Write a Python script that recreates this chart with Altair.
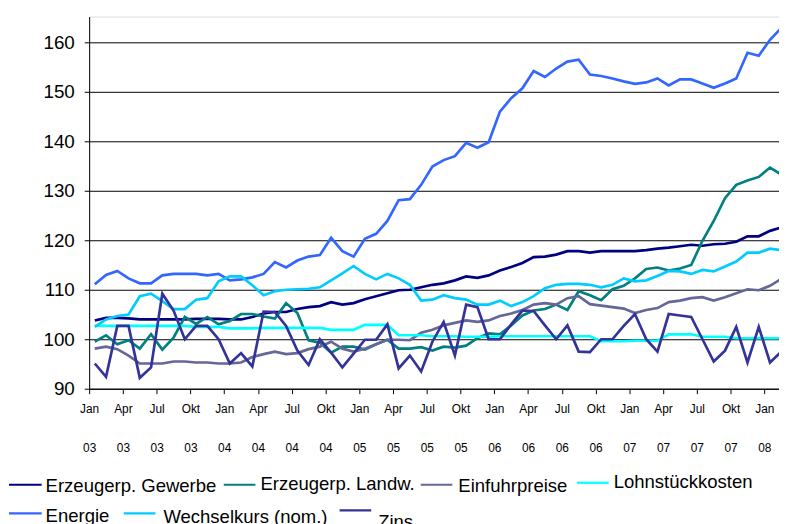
import json
import altair as alt
import pandas as pd

# ---------------- data (monthly, Jan 2003 .. Feb 2008) ----------------
series_names = ["Erzeugerp. Gewerbe", "Erzeugerp. Landw.", "Einfuhrpreise",
                "Lohnstückkosten", "Energie", "Wechselkurs (nom.)", "Zins"]
series_colors = ["#000080", "#008080", "#666699", "#00FFFF",
                 "#3366FF", "#00CCFF", "#333399"]
quarter_labels = ["Jan", "Apr", "Jul", "Okt"]
year_labels = ["03", "04", "05", "06", "07", "08"]

gewerbe = [103.8, 104.3, 104.3, 104.2, 104.0, 104.0, 104.0, 104.0, 104.0, 104.1,
           104.1, 104.1, 104.0, 104.0, 104.5, 105.2, 105.5, 105.5, 106.1, 106.5,
           106.7, 107.5, 107.0, 107.3, 108.1, 108.7, 109.3, 109.9, 110.0, 110.5,
           111.0, 111.3, 111.9, 112.7, 112.4, 112.9, 113.9, 114.6, 115.4, 116.6,
           116.7, 117.1, 117.8, 117.8, 117.5, 117.8, 117.8, 117.8, 117.8, 118.0,
           118.3, 118.5, 118.8, 119.1, 118.9, 119.2, 119.3, 119.7, 120.8, 120.8,
           121.9, 122.6]
landw = [99.5, 100.8, 99.0, 99.8, 98.1, 101.0, 97.9, 100.3, 104.5, 103.1,
         104.5, 103.0, 103.7, 105.1, 105.1, 104.6, 104.2, 107.3, 105.3, 99.8,
         99.3, 97.3, 98.5, 98.5, 97.9, 99.0, 99.9, 98.1, 98.1, 98.4,
         97.7, 98.5, 98.3, 98.7, 100.2, 101.2, 101.0, 102.8, 104.8, 105.8,
         106.1, 107.0, 105.9, 109.7, 108.9, 107.9, 110.1, 110.8, 112.3, 114.2,
         114.5, 113.9, 114.3, 115.0, 119.9, 123.9, 128.5, 131.2, 132.1, 132.8,
         134.7, 133.3]
einfuhr = [98.1, 98.5, 98.0, 96.7, 95.1, 95.1, 95.1, 95.5, 95.5, 95.3,
           95.3, 95.1, 95.1, 95.3, 96.4, 97.0, 97.5, 97.0, 97.2, 98.0,
           98.5, 99.5, 98.1, 97.5, 98.1, 99.0, 99.9, 99.9, 99.8, 101.3,
           101.9, 102.8, 103.3, 103.8, 103.5, 103.8, 104.7, 105.2, 105.9, 107.0,
           107.3, 107.0, 108.3, 108.7, 107.1, 106.8, 106.5, 106.2, 105.3, 105.9,
           106.3, 107.5, 107.8, 108.3, 108.5, 107.8, 108.5, 109.3, 110.1, 109.9,
           110.8, 112.2]
lohn = [102.7, 102.7, 102.7, 102.7, 102.7, 102.7, 102.7, 102.7, 102.7, 102.5,
        102.5, 102.5, 102.2, 102.2, 102.2, 102.3, 102.3, 102.3, 102.3, 102.3,
        102.3, 101.9, 101.9, 101.9, 102.9, 102.9, 102.9, 100.8, 100.8, 100.8,
        100.6, 100.6, 100.6, 100.5, 100.5, 100.5, 100.6, 100.6, 100.6, 100.6,
        100.6, 100.6, 100.6, 100.6, 100.6, 99.6, 99.6, 99.6, 99.7, 99.7,
        99.7, 101.0, 101.0, 101.0, 100.5, 100.5, 100.5, 100.2, 100.2, 100.2,
        100.2, 100.2]
energie = [111.1, 113.0, 113.8, 112.3, 111.3, 111.3, 112.9, 113.2, 113.2, 113.2,
           112.9, 113.2, 111.9, 112.1, 112.5, 113.2, 115.6, 114.5, 115.9, 116.7,
           117.0, 120.5, 117.8, 116.7, 120.3, 121.3, 123.9, 128.1, 128.3, 131.2,
           134.9, 136.2, 137.0, 139.7, 138.7, 139.8, 146.0, 148.7, 150.7, 154.2,
           153.0, 154.7, 156.1, 156.5, 153.5, 153.2, 152.7, 152.1, 151.6, 151.9,
           152.7, 151.3, 152.5, 152.5, 151.7, 150.8, 151.7, 152.7, 157.9, 157.3,
           160.5, 162.9]
wechselkurs = [102.5, 104.0, 104.7, 105.0, 108.7, 109.2, 107.7, 106.1, 106.1, 108.0,
               108.3, 111.7, 112.7, 112.7, 110.9, 108.9, 109.7, 110.0, 110.1, 110.2,
               110.5, 111.9, 113.3, 114.8, 113.2, 112.1, 113.2, 112.3, 111.0, 107.8,
               108.0, 108.9, 108.3, 108.0, 107.0, 107.0, 107.8, 106.7, 107.5, 108.7,
               110.3, 111.0, 111.2, 111.2, 111.0, 110.5, 111.0, 112.3, 111.7, 111.9,
               112.8, 113.8, 113.7, 113.2, 114.0, 113.7, 114.7, 115.7, 117.5, 117.5,
               118.3, 118.0]
zins = [95.1, 92.4, 102.7, 102.7, 92.2, 94.3, 109.2, 105.8, 100.0, 102.7,
        102.7, 100.0, 95.1, 97.2, 94.5, 105.6, 105.5, 102.7, 97.7, 94.8,
        100.0, 97.3, 94.3, 97.1, 99.9, 99.9, 103.0, 94.1, 96.7, 93.5,
        99.5, 103.5, 96.7, 107.0, 106.5, 100.0, 100.0, 103.0, 105.8, 105.7,
        102.8, 100.0, 102.8, 97.5, 97.4, 100.0, 100.0, 102.7, 105.1, 100.0,
        97.5, 105.1, 104.8, 104.5, 100.0, 95.5, 97.7, 102.5, 95.3, 102.5,
        95.3, 97.5]

all_series = [gewerbe, landw, einfuhr, lohn, energie, wechselkurs, zins]

rows = []
for name, vals in zip(series_names, all_series):
    for i, v in enumerate(vals):
        rows.append({"monat": i, "wert": v, "reihe": name})
df = pd.DataFrame(rows)

# ---------------- layout (pixels, relative to the plot area's top-left) ----------------
PLOT_W, PLOT_H = 697, 376
PAD_L, PAD_T = 82, 6
# legend: flowing two-row layout (line start, line end, line y, text x, text baseline)
legend_layout = {
    "Erzeugerp. Gewerbe": (9, 42, 487, 46, 494),
    "Erzeugerp. Landw.": (226, 258, 487, 263, 492),
    "Einfuhrpreise": (425, 457, 487, 463, 494),
    "Lohnstückkosten": (583, 615, 485, 620, 490),
    "Energie": (9, 42, 516, 46, 525),
    "Wechselkurs (nom.)": (125, 157, 516, 165, 526),
    "Zins": (343, 375, 513, 382, 531),
}
ORIGIN_X, ORIGIN_Y = 8 + PAD_L, 8 + PAD_T
leg_rows = []
for name in series_names:
    x1, x2, ly, tx, ty = legend_layout[name]
    leg_rows.append({"reihe": name, "x1": x1 - ORIGIN_X, "x2": x2 - ORIGIN_X,
                     "ly": ly - ORIGIN_Y, "tx": tx - ORIGIN_X, "ty": ty - ORIGIN_Y})
leg_df = pd.DataFrame(leg_rows)

# tick marks sit on the boundaries between months, one every quarter
tick_vals = [k * 3 - 0.5 for k in range(21)]
label_expr = (
    "[" + json.dumps(quarter_labels) + "[round((datum.value + 0.5) / 3) % 4], "
    + json.dumps(year_labels) + "[floor(round((datum.value + 0.5) / 3) / 4)]]"
)

FONT = "Liberation Sans"
color_scale = alt.Scale(domain=series_names, range=series_colors)

lines = alt.Chart(df).mark_line(strokeWidth=2.7, clip=True).encode(
    x=alt.X("monat:Q",
            scale=alt.Scale(domain=[-0.5, 60.8], nice=False, zero=False),
            axis=alt.Axis(title=None, values=tick_vals, labelExpr=label_expr,
                          labelFontSize=12, labelFont=FONT, labelColor="black",
                          labelLineHeight=39, labelPadding=10, labelOverlap=False,
                          labelFlush=False, labelBaseline="top",
                          tickSize=5, tickColor="black", domainColor="black",
                          grid=False)),
    y=alt.Y("wert:Q",
            scale=alt.Scale(domain=[90, 165.2], nice=False, zero=False),
            axis=alt.Axis(title=None, values=[90, 100, 110, 120, 130, 140, 150, 160],
                          labelFontSize=19, labelFont=FONT, labelColor="black",
                          labelPadding=10, tickSize=5, tickColor="black",
                          domainColor="black", grid=True, gridColor="black",
                          gridWidth=1, gridOpacity=1)),
    color=alt.Color("reihe:N", scale=color_scale, legend=None),
)

leg_lines = alt.Chart(leg_df).mark_rule(strokeWidth=2.2).encode(
    x=alt.X("x1:Q", scale=None, axis=None),
    x2="x2:Q",
    y=alt.Y("ly:Q", scale=None, axis=None),
    color=alt.Color("reihe:N", scale=color_scale, legend=None),
)

leg_text = alt.Chart(leg_df).mark_text(
    align="left", baseline="alphabetic", font=FONT, fontSize=18.7, color="black"
).encode(
    x=alt.X("tx:Q", scale=None, axis=None),
    y=alt.Y("ty:Q", scale=None, axis=None),
    text="reihe:N",
)

chart = alt.layer(lines, leg_lines, leg_text).resolve_scale(
    x="independent", y="independent"
).properties(
    width=PLOT_W,
    height=PLOT_H,
    autosize=alt.AutoSizeParams(type="none"),
    padding={"left": PAD_L, "top": PAD_T, "right": 0, "bottom": 134},
).configure_view(
    stroke="#888888", strokeWidth=1
).configure(background="white")

chart.save("out.html", embed_options={"renderer": "svg", "actions": False})
